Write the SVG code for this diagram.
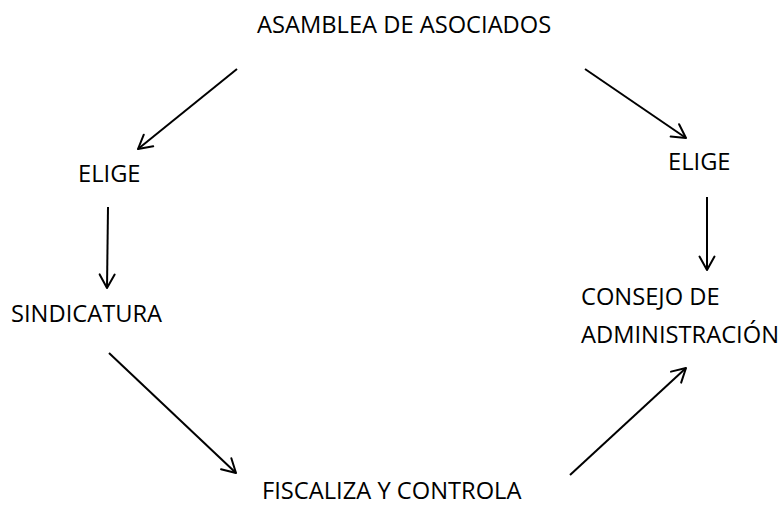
<svg xmlns="http://www.w3.org/2000/svg" width="783" height="506" viewBox="0 0 783 506">
  <style>
    .lbl { font-family: "Open Sans", "Liberation Sans", sans-serif; font-size: 23.7px; fill: #000; }
    .conn { stroke: #000; stroke-width: 2; fill: none; marker-end: url(#arrow); }
  </style>
  <defs>
    <marker id="arrow" markerUnits="userSpaceOnUse" markerWidth="24" markerHeight="24" refX="15" refY="10" orient="auto">
      <path d="M1.5,2.5 L15,10 L1.5,17.5" stroke="#000" stroke-width="2" fill="none" stroke-linejoin="round" stroke-linecap="round"/>
    </marker>
  </defs>
  <rect width="783" height="506" fill="#fff"/>
  <g id="asamblea"><text class="lbl" x="257" y="33">ASAMBLEA DE ASOCIADOS</text></g>
  <g id="elige-izq"><text class="lbl" x="78" y="182">ELIGE</text></g>
  <g id="elige-der"><text class="lbl" x="668" y="170">ELIGE</text></g>
  <g id="sindicatura"><text class="lbl" x="11" y="322">SINDICATURA</text></g>
  <g id="consejo"><text class="lbl" x="581" y="305">CONSEJO DE</text><text class="lbl" x="581" y="343">ADMINISTRACIÓN</text></g>
  <g id="fiscaliza"><text class="lbl" x="262" y="499">FISCALIZA Y CONTROLA</text></g>
  <g id="connectors">
    <line class="conn" x1="237" y1="69" x2="138" y2="149"/>
    <line class="conn" x1="585" y1="69" x2="686" y2="138"/>
    <line class="conn" x1="108" y1="207" x2="107" y2="288"/>
    <line class="conn" x1="707" y1="197" x2="707" y2="270"/>
    <line class="conn" x1="109" y1="353" x2="236" y2="473"/>
    <line class="conn" x1="570" y1="475" x2="686" y2="368"/>
  </g>
</svg>
